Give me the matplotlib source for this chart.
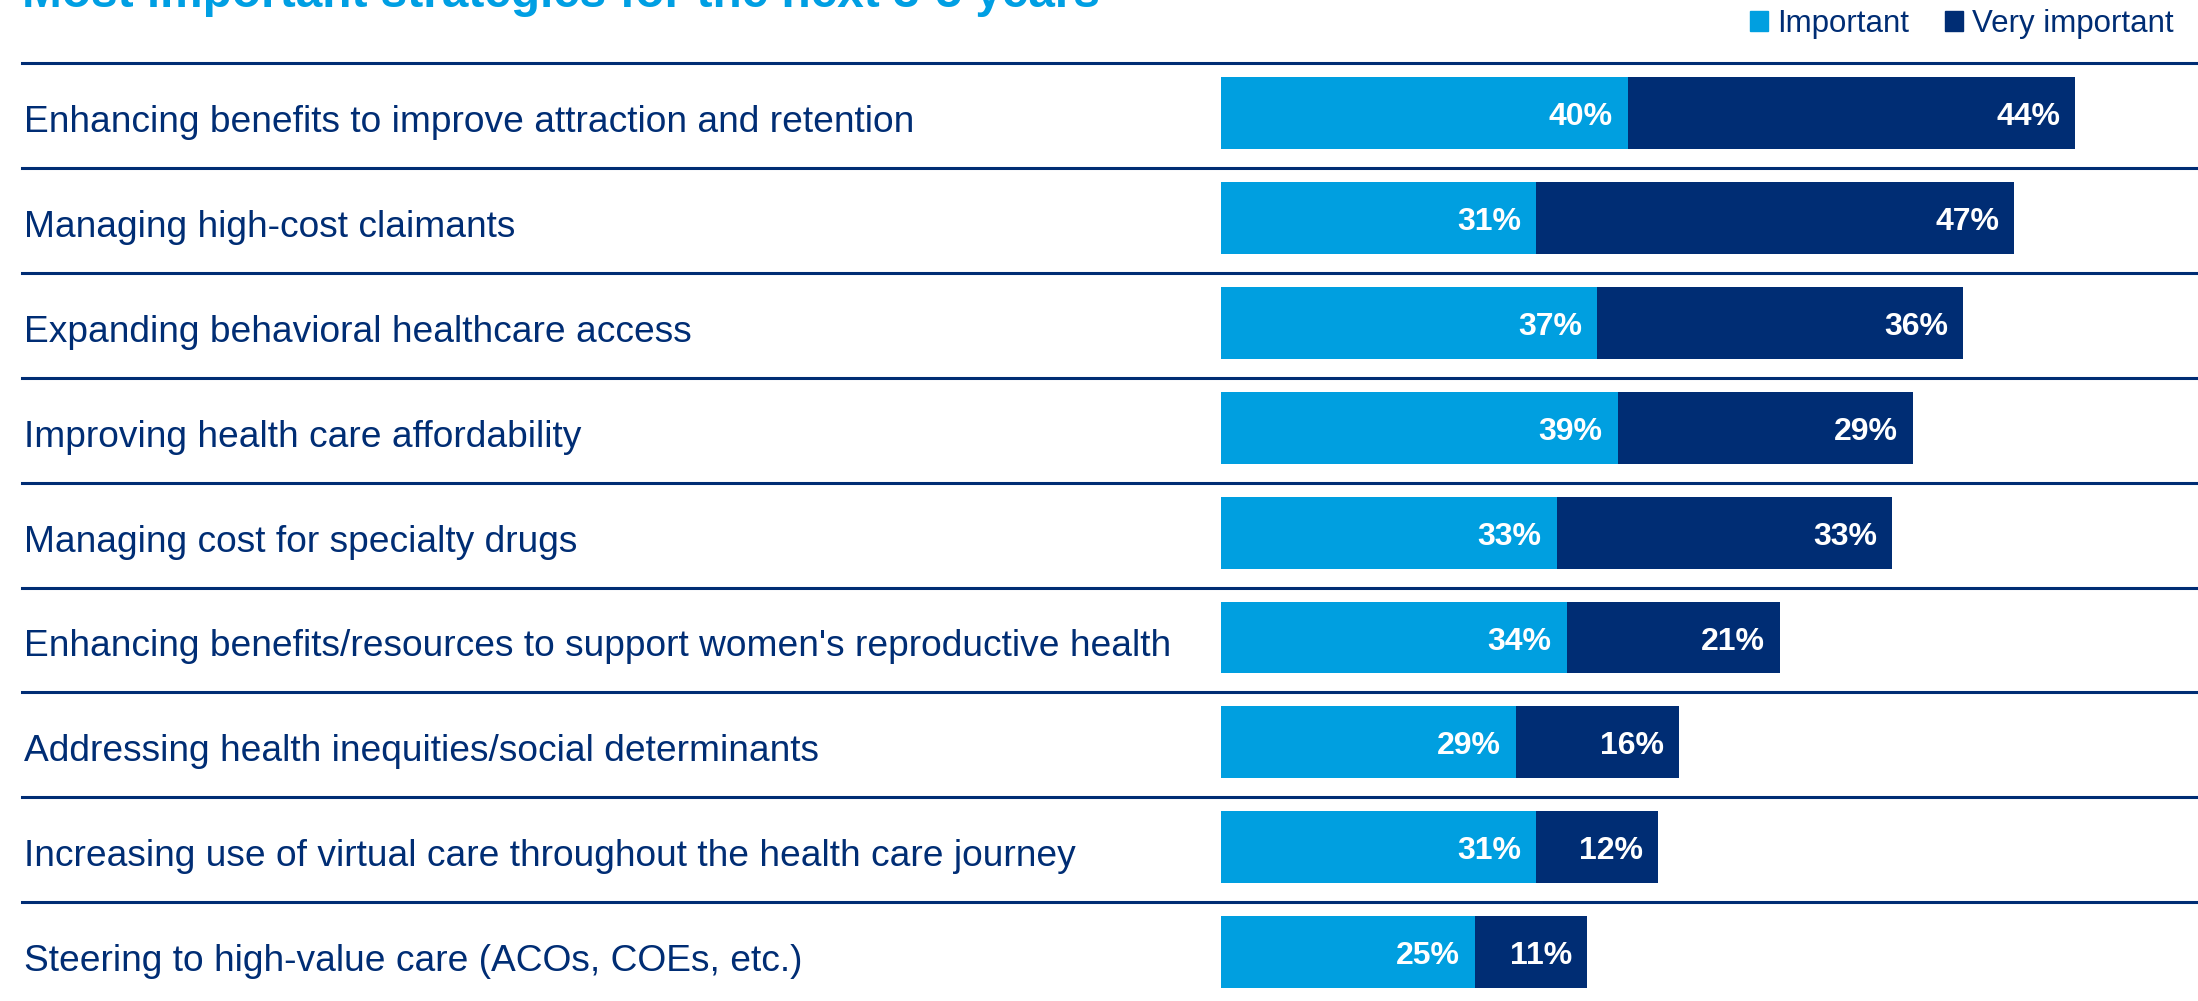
import matplotlib.pyplot as plt
from matplotlib.patches import Patch

strategies = [
    "Enhancing benefits to improve attraction and retention",
    "Managing high-cost claimants",
    "Expanding behavioral healthcare access",
    "Improving health care affordability",
    "Managing cost for specialty drugs",
    "Enhancing benefits/resources to support women's reproductive health",
    "Addressing health inequities/social determinants",
    "Increasing use of virtual care throughout the health care journey",
    "Steering to high-value care (ACOs, COEs, etc.)",
]
important = [40, 31, 37, 39, 33, 34, 29, 31, 25]
very_important = [44, 47, 36, 29, 33, 21, 16, 12, 11]

LIGHT = "#009FE0"
NAVY = "#002D74"

fig = plt.figure(figsize=(21.98, 10.01), dpi=100)
ax = fig.add_axes([0, 0, 1, 1])

rows = list(range(len(strategies)))
h = 0.686
ax.barh(rows, important, height=h, color=LIGHT)
ax.barh(rows, very_important, left=important, height=h, color=NAVY)

# pixel scale: ~10.17 px per percent, bars start at x=1221
px_per_pct = 10.17
x0 = 1221
ax.set_xlim(-x0 / px_per_pct, (2198 - x0) / px_per_pct)
row_px = 104.9
ax.set_ylim((1001 - 113) / row_px, -113 / row_px)
ax.axis("off")

pad = 15 / px_per_pct
for i in rows:
    a, b = important[i], very_important[i]
    ax.text(a - pad, i + 12 / row_px, f"{a}%", color="white", fontsize=23, fontweight="bold",
            ha="right", va="baseline", family="Liberation Sans")
    ax.text(a + b - pad, i + 12 / row_px, f"{b}%", color="white", fontsize=23, fontweight="bold",
            ha="right", va="baseline", family="Liberation Sans")
    ax.text(-(x0 - 24) / px_per_pct, i + 19 / row_px, strategies[i], color=NAVY, fontsize=26.7,
            ha="left", va="baseline", family="Liberation Sans")
    # separator above each row
    ax.axhline(i - 50 / row_px, xmin=22 / 2198, xmax=1, color=NAVY, lw=2.2)

fig.text(22 / 2198, 1 - 7 / 1001, "Most important strategies for the next 3-5 years",
         color="#009FE3", fontsize=34.4, fontweight="bold", ha="left", va="baseline",
         family="Liberation Sans")

handles = [Patch(color=LIGHT), Patch(color=NAVY)]
fig.legend(handles, ["Important", "Very important"], loc="upper right",
           bbox_to_anchor=(2174 / 2198, 1 - 9 / 1001), ncol=2, frameon=False,
           borderpad=0, borderaxespad=0,
           handlelength=0.58, handleheight=0.58, handletextpad=0.29, columnspacing=1.16,
           labelcolor=NAVY, prop={"family": "Liberation Sans", "size": 22.5})

fig.savefig("out.png", dpi=100)
